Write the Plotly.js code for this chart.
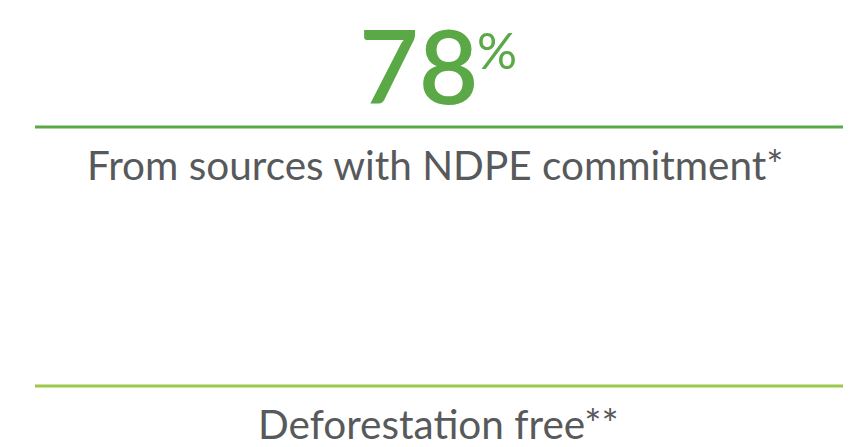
<!DOCTYPE html>
<html><head><meta charset="utf-8">
<script src="https://cdn.plot.ly/plotly-3.0.1.min.js"></script>
<style>html,body{margin:0;padding:0;background:#fff;}#chart{width:859px;height:447px;}</style>
</head><body><div id="chart"></div>
<script>
const metricLabels = ["From sources with NDPE commitment*", "Deforestation free**"];
const metricValues = ["78", ""];
const valueUnit = "%";
const ruleColors = ["#5aa846", "#9cc84b"];

const W = 859, H = 447;
const ruleY = [127, 386];
const labelY = [164, 423];
const labelX = [435, 438];

const shapes = ruleY.map((y, i) => ({
  type: "line", xref: "x", yref: "y", x0: 35, x1: 843, y0: y, y1: y,
  line: {color: ruleColors[i], width: 3}
}));

const annotations = [];
metricLabels.forEach((t, i) => {
  annotations.push({x: labelX[i], y: labelY[i], xref: "x", yref: "y", text: t, showarrow: false,
    xanchor: "center", yanchor: "middle",
    font: {family: "Lato", size: 40.5, color: "#58595b"}});
});
annotations.push({x: 418, y: 64, xref: "x", yref: "y", text: metricValues[0], showarrow: false,
  xanchor: "center", yanchor: "middle", font: {family: "Lato Semibold, Lato", size: 103, weight: 600, color: "#5aa846"}});
annotations.push({x: 475, y: 50, xref: "x", yref: "y", text: valueUnit, showarrow: false,
  xanchor: "left", yanchor: "middle", font: {family: "Lato", size: 50, color: "#5aa846"}});

Plotly.newPlot("chart", [], {
  width: W, height: H, margin: {l: 0, r: 0, t: 0, b: 0},
  paper_bgcolor: "#fff", plot_bgcolor: "#fff",
  xaxis: {range: [0, W], visible: false, fixedrange: true},
  yaxis: {range: [H, 0], visible: false, fixedrange: true},
  shapes, annotations, showlegend: false
}, {staticPlot: true, displayModeBar: false});
</script></body></html>
